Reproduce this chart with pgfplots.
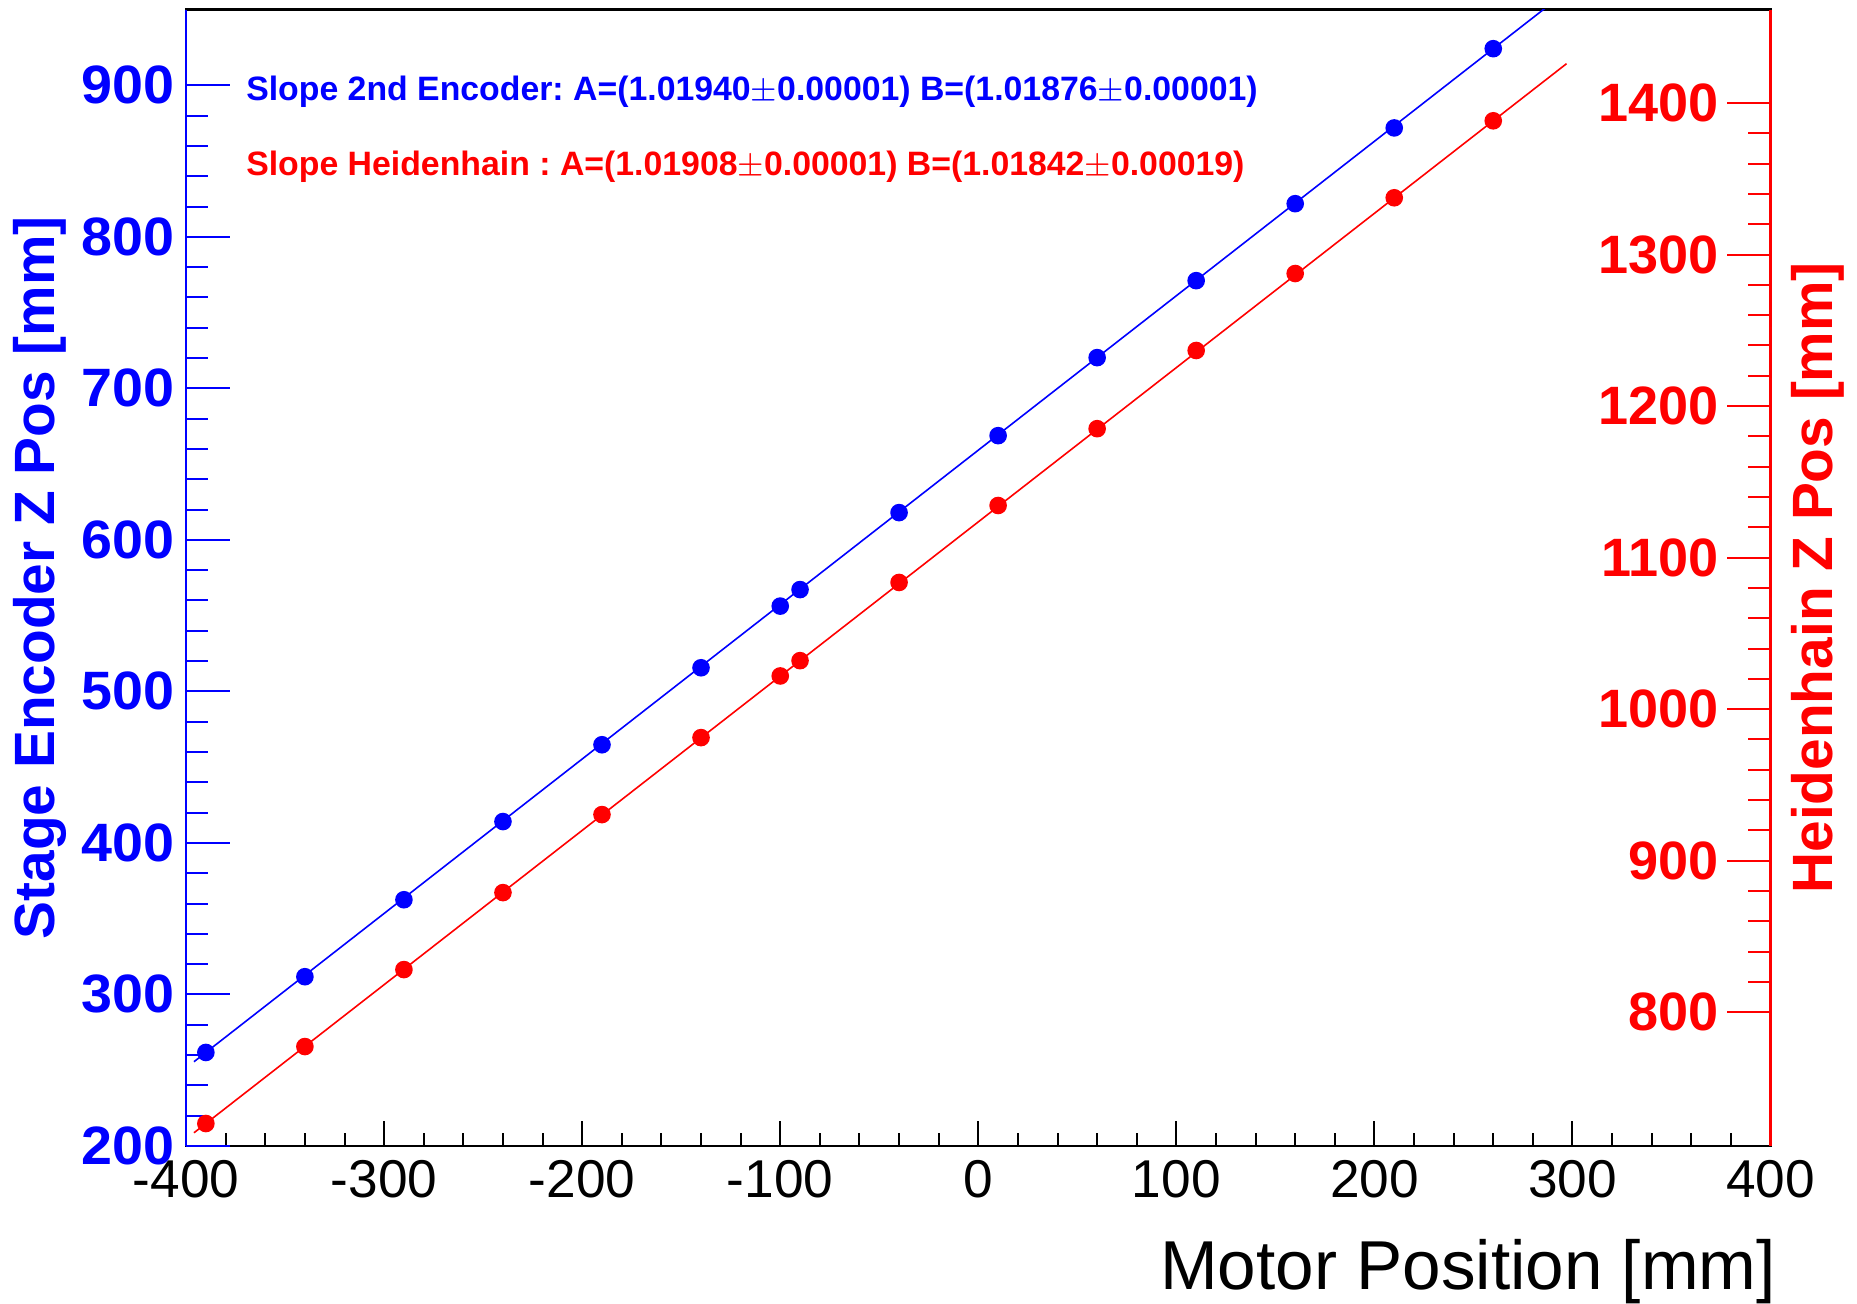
\documentclass[border=0pt]{standalone}
\usepackage{fontspec}
\setmainfont{Liberation Sans}
\usepackage{pgfplots}
\pgfplotsset{compat=1.18}

\definecolor{rootblue}{RGB}{0,0,255}
\definecolor{rootred}{RGB}{255,0,0}

% stage encoder (left axis) and Heidenhain (right axis) readings vs motor position
\pgfplotstableread{
x     y
-390  261.7
-340  311.7
-290  362.5
-240  414.1
-190  464.8
-140  515.6
-100  556.3
-90   567.2
-40   618.0
10    668.8
60    720.3
110   771.1
160   821.9
210   871.9
260   924.2
}\encoder
\pgfplotstableread{
x     y
-390  726.5
-340  777.3
-290  828.1
-240  878.9
-190  930.4
-140  981.2
-100  1021.9
-90   1032.0
-40   1083.6
10    1134.4
60    1185.1
110   1236.7
160   1287.5
210   1337.5
260   1388.3
}\heiden

\pgfplotsset{
  common/.style={
    scale only axis, width=396pt, height=284pt,
    at={(0,0)}, anchor=south west,
    xmin=-400, xmax=400, enlargelimits=false,
    /pgf/number format/assume math mode=true,
    /pgf/number format/1000 sep={},
  },
}

\begin{document}
\frenchspacing
\begin{tikzpicture}
\useasboundingbox (-46.5pt,-39.4pt) rectangle (417.6pt,286.4pt);

% frame and x axis
\begin{axis}[common,
    ymin=200, ymax=950,
    axis line style={black, line width=0.6pt},
    xtick={-400,-300,...,400}, minor x tick num=4,
    ytick=\empty, xtick pos=left,
    tick align=inside,
    major tick length=6.3pt, minor tick length=3.2pt,
    tick style={black, line width=0.5pt},
    xticklabel style={font=\fontsize{13.3}{15}\selectfont},
    xlabel={Motor Position [mm]},
    every axis x label/.style={at={(axis description cs:1,0)}, anchor=base east, yshift=-36pt,
      xshift=1.5pt, inner sep=0pt, font=\fontsize{17.3}{20}\selectfont},
]
\end{axis}

% left axis: stage encoder
\begin{axis}[common,
    axis y line*=left, axis x line=none,
    ymin=200, ymax=950,
    y axis line style={-, rootblue, line width=0.6pt},
    ytick={200,300,...,900}, minor y tick num=4,
    tick align=inside,
    major tick length=11pt, minor tick length=5.6pt,
    tick style={rootblue, line width=0.5pt},
    yticklabel style={rootblue, anchor=east, inner sep=0pt, xshift=-2.7pt, xscale=1.03,
      font=\bfseries\fontsize{13.5}{15}\selectfont},
    ylabel={Stage Encoder Z Pos [mm]},
    every axis y label/.style={at={(axis description cs:-0.0831,0.5)}, rotate=90, anchor=base,
      rootblue, font=\bfseries\fontsize{14.2}{16}\selectfont},
]
\addplot[rootblue, line width=0.4pt] coordinates {(-396,255.6) (300,965.0)};
\addplot[only marks, mark=*, mark size=2pt, rootblue] table[x=x, y=y] {\encoder};
\node[anchor=base west, rootblue, font=\bfseries\fontsize{8.45}{10}\selectfont, inner sep=0pt]
  at (axis cs:-370,889.8) {Slope 2nd Encoder: A=(1.01940$\pm$0.00001) B=(1.01876$\pm$0.00001)};
\node[anchor=base west, rootred, font=\bfseries\fontsize{8.45}{10}\selectfont, inner sep=0pt]
  at (axis cs:-370,840.6) {Slope Heidenhain : A=(1.01908$\pm$0.00001) B=(1.01842$\pm$0.00019)};
\end{axis}

% right axis: Heidenhain
\begin{axis}[common,
    axis y line*=right, axis x line=none,
    ymin=711.7, ymax=1461.7,
    y axis line style={-, rootred, line width=0.6pt},
    ytick={800,900,...,1400}, minor y tick num=4,
    tick align=inside,
    major tick length=11pt, minor tick length=5.6pt,
    tick style={rootred, line width=0.5pt},
    yticklabel style={rootred, anchor=east, inner sep=0pt, xshift=-12.7pt,
      font=\bfseries\fontsize{13.5}{15}\selectfont},
    ylabel={Heidenhain Z Pos [mm]},
    every axis y label/.style={at={(axis description cs:1.0394,0.5)}, rotate=90, anchor=base,
      rootred, font=\bfseries\fontsize{14.2}{16}\selectfont},
]
\addplot[rootred, line width=0.4pt] coordinates {(-396,720.4) (297,1426.0)};
\addplot[only marks, mark=*, mark size=2pt, rootred] table[x=x, y=y] {\heiden};
\end{axis}
\end{tikzpicture}
\end{document}
